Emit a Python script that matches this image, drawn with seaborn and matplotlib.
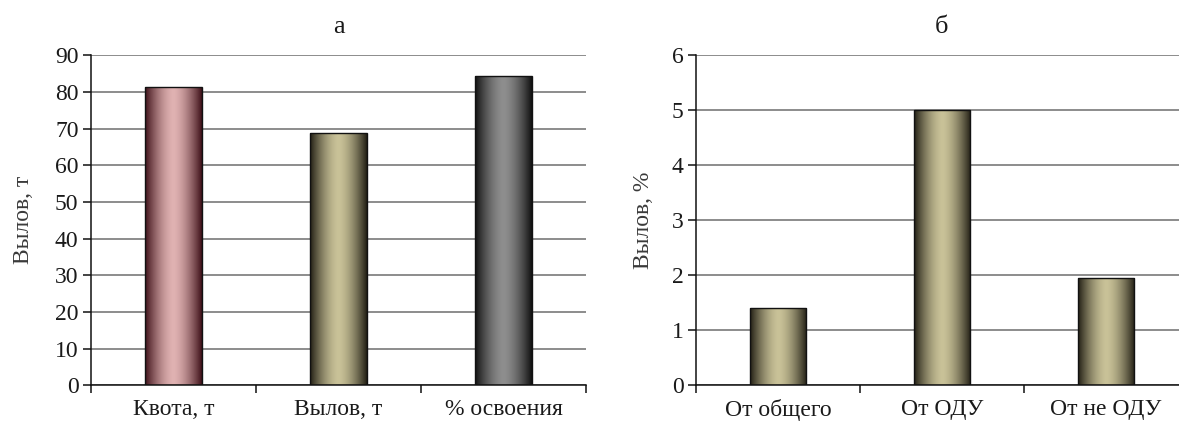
import numpy as np
import pandas as pd
import matplotlib
matplotlib.use("Agg")
import matplotlib.pyplot as plt
import seaborn as sns
from matplotlib.colors import to_rgb

# Panel "а": quota, catch and share of quota used
quota_labels = ["Квота, т", "Вылов, т", "% освоения"]
quota_values = [81.2, 68.9, 84.4]
quota_colors = ["#e0b2b2", "#c9c298", "#8e8e8e"]
quota_edges = ["#3e1018", "#221f14", "#101010"]

# Panel "б": catch as a percentage of different totals
share_labels = ["От общего", "От ОДУ", "От не ОДУ"]
share_values = [1.40, 5.01, 1.95]
share_colors = ["#c9c298", "#c9c298", "#c9c298"]
share_edges = ["#221f14", "#221f14", "#221f14"]

sns.set_theme(style="white")
plt.rcParams["font.family"] = ["Liberation Serif", "DejaVu Serif"]

fig = plt.figure(figsize=(11.79, 4.28), dpi=100)
ax1 = fig.add_axes([0.0772, 0.0993, 0.4198, 0.772])
ax2 = fig.add_axes([0.5903, 0.0993, 0.4173, 0.772])


def cylinder_shading(ax, centers, edges):
    """Paint each bar with a horizontal light-in-the-middle gradient."""
    t = np.linspace(0, 1, 256)
    peak = 0.5
    d = np.where(t < peak, (peak - t) / peak, (t - peak) / (1 - peak))
    f = np.clip(1 - d ** 1.6, 0, 1)
    for patch, c, e in zip(ax.patches, centers, edges):
        c = np.array(to_rgb(c))
        e = np.array(to_rgb(e))
        img = e[None, :] + (c - e)[None, :] * f[:, None]
        img = img[None, :, :]
        x, y = patch.get_x(), patch.get_y()
        w, h = patch.get_width(), patch.get_height()
        im = ax.imshow(img, extent=[x, x + w, y, y + h], aspect="auto",
                       interpolation="bilinear", zorder=2.5)
        im.set_clip_path(patch)
        patch.set_facecolor("none")
        patch.set_edgecolor("#111111")
        patch.set_linewidth(1.0)
        patch.set_zorder(3)


def draw_panel(ax, labels, values, centers, edges, ymax, step, ylabel,
               title, ylabelpad):
    df = pd.DataFrame({"cat": labels, "val": values})
    sns.barplot(data=df, x="cat", y="val", hue="cat", palette=centers,
                legend=False, width=0.345, ax=ax, saturation=1)
    cylinder_shading(ax, centers, edges)
    ax.set_xlim(-0.5, len(labels) - 0.5)
    ax.set_ylim(0, ymax)
    ax.set_yticks(np.arange(0, ymax + step / 2, step))
    ax.set_axisbelow(True)
    ax.yaxis.grid(True, color="#8c8c8c", linewidth=1.4)
    ax.xaxis.grid(False)
    for side in ("top", "right"):
        ax.spines[side].set_visible(False)
    for side in ("left", "bottom"):
        ax.spines[side].set_color("#111111")
        ax.spines[side].set_linewidth(1.1)
    # category boundaries carry the ticks, labels sit on the category centres
    ax.set_xticks(np.arange(-0.5, len(labels)), [""] * (len(labels) + 1))
    ax.set_xticks(np.arange(len(labels)), labels, minor=True)
    ax.tick_params(axis="x", which="major", length=6, width=1.1,
                   direction="out", color="#111111", bottom=True)
    ax.tick_params(axis="x", which="minor", length=0, pad=10,
                   labelsize=17, labelcolor="#1a1a1a", bottom=True)
    ax.tick_params(axis="y", length=6, width=1.1, direction="out",
                   color="#111111", left=True, pad=3,
                   labelsize=17, labelcolor="#1a1a1a")
    ax.set_xlabel("")
    ax.set_ylabel(ylabel, fontsize=17, color="#3a3a3a", labelpad=ylabelpad)
    ax.set_title(title, fontsize=19, color="#1a1a1a", pad=16)


draw_panel(ax1, quota_labels, quota_values, quota_colors, quota_edges,
           90, 10, "Вылов, т", "а", 15)
draw_panel(ax2, share_labels, share_values, share_colors, share_edges,
           6, 1, "Вылов, %", "б", 13)

fig.savefig("out.png", dpi=100)
